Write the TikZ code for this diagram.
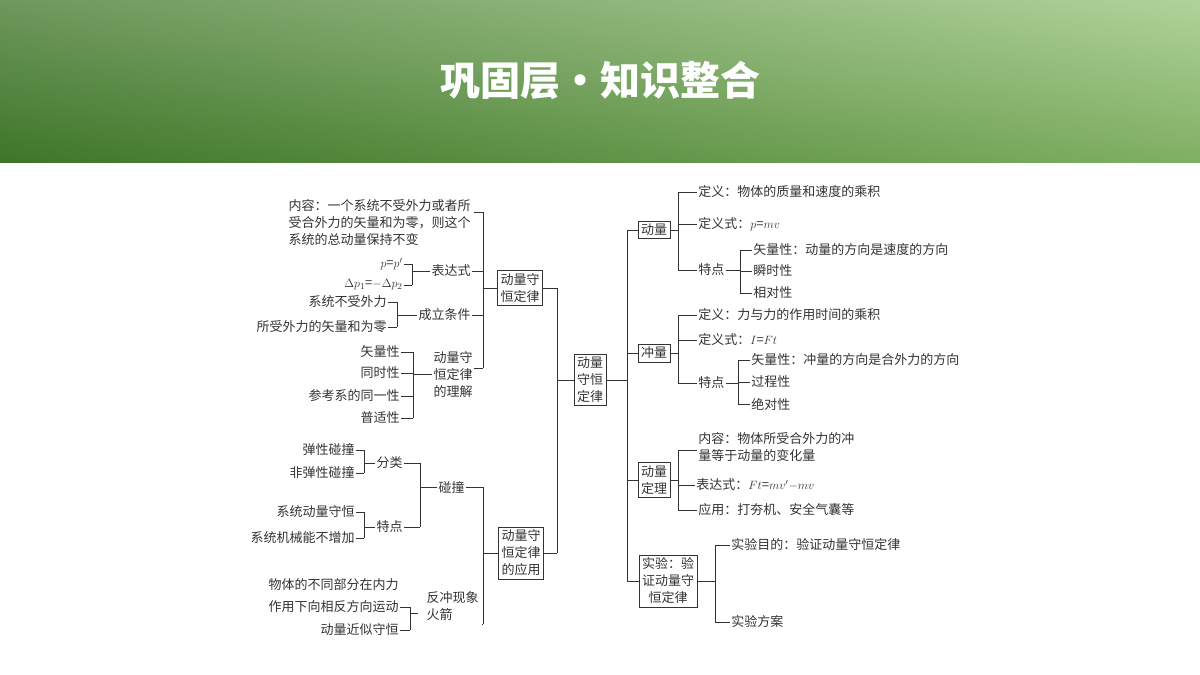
\documentclass[tikz,border=0pt]{standalone}
\usepackage{fontspec}
\setmainfont{Noto Sans CJK SC}
\usetikzlibrary{positioning}
\definecolor{hdark}{RGB}{62,118,40}
\definecolor{hlight}{RGB}{150,196,120}
\tikzset{
  txt/.style={inner sep=1pt,font=\fontsize{13}{17}\selectfont,align=left},
  box/.style={draw,inner sep=3pt,align=center,font=\fontsize{13}{17}\selectfont},
  every path/.style={line width=0.8pt,color=black!80}
}
\begin{document}
\begin{tikzpicture}[x=1pt,y=-1pt]
  \useasboundingbox (0,0) rectangle (1200,675);
  % header
  \shade[left color=hdark,right color=hlight,draw=none] (0,0) rectangle (1200,162);
  \shade[top color=white,bottom color=hdark,opacity=0.25,draw=none] (0,0) rectangle (1200,162);
  \node[font=\fontsize{40}{44}\selectfont\bfseries,text=white] (title) at (600,80) {巩固层·知识整合};

  % centre
  \node[box] (law) at (590,380) {动量\\守恒\\定律};
  \coordinate (busR) at (627,380);
  \coordinate (busL) at (557,380);

  % right side
  \node[box] (mom) at (654,230) {动量};
  \node[box] (imp) at (654,353) {冲量};
  \node[box] (thm) at (654,480) {动量\\定理};
  \node[box] (exp) at (668,581) {实验：验\\证动量守\\恒定律};
  \draw (law.east) -- (busR);
  \draw (mom.west -| busR) -- (exp.west -| busR);
  \foreach \n in {mom,imp,thm,exp} \draw (\n.west) -- (\n.west -| busR);

  % momentum
  \node[txt,anchor=west] (momA) at (697,192) {定义：物体的质量和速度的乘积};
  \node[txt,anchor=west] (momB) at (697,224) {定义式：$p$=$mv$};
  \node[txt,anchor=west] (momC) at (697,270) {特点};
  \node[txt,anchor=west] (momC1) at (752,250) {矢量性：动量的方向是速度的方向};
  \node[txt,anchor=west] (momC2) at (752,271) {瞬时性};
  \node[txt,anchor=west] (momC3) at (752,293) {相对性};
  \draw (mom.east) -- (mom.east -| 678,0);
  \draw (momA.west -| 678,0) -- (momC.west -| 678,0);
  \foreach \n in {momA,momB,momC} \draw (\n.west) -- (\n.west -| 678,0);
  \draw (momC.east) -- (momC.east -| 740,0);
  \draw (momC1.west -| 740,0) -- (momC3.west -| 740,0);
  \foreach \n in {momC1,momC2,momC3} \draw (\n.west) -- (\n.west -| 740,0);

  % impulse
  \node[txt,anchor=west] (impA) at (697,315) {定义：力与力的作用时间的乘积};
  \node[txt,anchor=west] (impB) at (697,340) {定义式：$I$=$Ft$};
  \node[txt,anchor=west] (impC) at (697,383) {特点};
  \node[txt,anchor=west] (impC1) at (750,360) {矢量性：冲量的方向是合外力的方向};
  \node[txt,anchor=west] (impC2) at (750,382) {过程性};
  \node[txt,anchor=west] (impC3) at (750,404) {绝对性};
  \draw (imp.east) -- (imp.east -| 678,0);
  \draw (impA.west -| 678,0) -- (impC.west -| 678,0);
  \foreach \n in {impA,impB,impC} \draw (\n.west) -- (\n.west -| 678,0);
  \draw (impC.east) -- (impC.east -| 738,0);
  \draw (impC1.west -| 738,0) -- (impC3.west -| 738,0);
  \foreach \n in {impC1,impC2,impC3} \draw (\n.west) -- (\n.west -| 738,0);

  % theorem
  \node[txt,anchor=north west] (thmA) at (697,431) {内容：物体所受合外力的冲\\量等于动量的变化量};
  \coordinate (thmAc) at (697,450);
  \node[txt,anchor=west] (thmB) at (695,485) {表达式：$Ft$=$mv'$$-$$mv$};
  \node[txt,anchor=west] (thmC) at (697,510) {应用：打夯机、安全气囊等};
  \draw (thm.east) -- (thm.east -| 678,0);
  \draw (thmAc -| 678,0) -- (thmC.west -| 678,0);
  \draw (thmAc) -- (thmAc -| 678,0);
  \foreach \n in {thmB,thmC} \draw (\n.west) -- (\n.west -| 678,0);

  % experiment
  \node[txt,anchor=west] (expA) at (730,545) {实验目的：验证动量守恒定律};
  \node[txt,anchor=west] (expB) at (730,622) {实验方案};
  \draw (exp.east) -- (exp.east -| 715,0);
  \draw (expA.west -| 715,0) -- (expB.west -| 715,0);
  \foreach \n in {expA,expB} \draw (\n.west) -- (\n.west -| 715,0);

  % left side
  \node[box] (cons) at (520,288) {动量守\\恒定律};
  \node[box] (appl) at (521,553) {动量守\\恒定律\\的应用};
  \draw (law.west) -- (busL);
  \draw (cons.east -| busL) -- (appl.east -| busL);
  \foreach \n in {cons,appl} \draw (\n.east) -- (\n.east -| busL);

  % conservation law
  \node[txt,anchor=north east] (conA) at (472,198) {内容：一个系统不受外力或者所\\受合外力的矢量和为零，则这个\\系统的总动量保持不变};
  \coordinate (conAc) at (474,212);
  \node[txt,anchor=east] (conB) at (472,271) {表达式};
  \node[txt,anchor=east] (conC) at (472,315) {成立条件};
  \node[txt,anchor=north east] (conD) at (474,350) {动量守\\恒定律\\的理解};
  \coordinate (conDc) at (474,368);
  \draw (cons.west) -- (cons.west -| 483,0);
  \draw (conAc -| 483,0) -- (conDc -| 483,0);
  \foreach \n in {conAc,conDc} \draw (\n) -- (\n -| 483,0);
  \foreach \n in {conB,conC} \draw (\n.east) -- (\n.east -| 483,0);

  \node[txt,anchor=east] (conB1) at (404,264) {$p$=$p'$};
  \node[txt,anchor=east] (conB2) at (404,285) {$\Delta p_1$=$-\Delta p_2$};
  \draw (conB.west) -- (conB.west -| 412,0);
  \draw (conB1.east -| 412,0) -- (conB2.east -| 412,0);
  \foreach \n in {conB1,conB2} \draw (\n.east) -- (\n.east -| 412,0);

  \node[txt,anchor=east] (conC1) at (388,302) {系统不受外力};
  \node[txt,anchor=east] (conC2) at (388,327) {所受外力的矢量和为零};
  \draw (conC.west) -- (conC.west -| 397,0);
  \draw (conC1.east -| 397,0) -- (conC2.east -| 397,0);
  \foreach \n in {conC1,conC2} \draw (\n.east) -- (\n.east -| 397,0);

  \node[txt,anchor=east] (conD1) at (401,352) {矢量性};
  \node[txt,anchor=east] (conD2) at (401,373) {同时性};
  \node[txt,anchor=east] (conD3) at (401,396) {参考系的同一性};
  \node[txt,anchor=east] (conD4) at (401,418) {普适性};
  \draw (conD.west) -- (conD.west -| 413,0);
  \draw (conD1.east -| 413,0) -- (conD4.east -| 413,0);
  \foreach \n in {conD1,conD2,conD3,conD4} \draw (\n.east) -- (\n.east -| 413,0);

  % applications
  \node[txt,anchor=east] (apA) at (466,487) {碰撞};
  \node[txt,anchor=north east] (apB) at (480,590) {反冲现象\\火箭};
  \coordinate (apBc) at (482,624);
  \coordinate (apBm) at (418,613);
  \draw (appl.west) -- (appl.west -| 483,0);
  \draw (apA.east -| 483,0) -- (apBc -| 483,0);
  \draw (apA.east) -- (apA.east -| 483,0);
  \draw (apBc) -- (apBc -| 483,0);

  \node[txt,anchor=east] (apA1) at (404,463) {分类};
  \node[txt,anchor=east] (apA2) at (404,527) {特点};
  \draw (apA.west) -- (apA.west -| 420,0);
  \draw (apA1.east -| 420,0) -- (apA2.east -| 420,0);
  \foreach \n in {apA1,apA2} \draw (\n.east) -- (\n.east -| 420,0);

  \node[txt,anchor=east] (apA11) at (356,450) {弹性碰撞};
  \node[txt,anchor=east] (apA12) at (356,473) {非弹性碰撞};
  \draw (apA1.west) -- (apA1.west -| 364,0);
  \draw (apA11.east -| 364,0) -- (apA12.east -| 364,0);
  \foreach \n in {apA11,apA12} \draw (\n.east) -- (\n.east -| 364,0);

  \node[txt,anchor=east] (apA21) at (356,512) {系统动量守恒};
  \node[txt,anchor=east] (apA22) at (356,538) {系统机械能不增加};
  \draw (apA2.west) -- (apA2.west -| 364,0);
  \draw (apA21.east -| 364,0) -- (apA22.east -| 364,0);
  \foreach \n in {apA21,apA22} \draw (\n.east) -- (\n.east -| 364,0);

  \node[txt,anchor=east] (apB0) at (400,585) {物体的不同部分在内力};
  \node[txt,anchor=east] (apB1) at (400,607) {作用下向相反方向运动};
  \node[txt,anchor=east] (apB2) at (400,630) {动量近似守恒};
  \draw (apBm) -- (apBm -| 410,0);
  \draw (apB1.east -| 410,0) -- (apB2.east -| 410,0);
  \foreach \n in {apB1,apB2} \draw (\n.east) -- (\n.east -| 410,0);
\end{tikzpicture}
\end{document}
